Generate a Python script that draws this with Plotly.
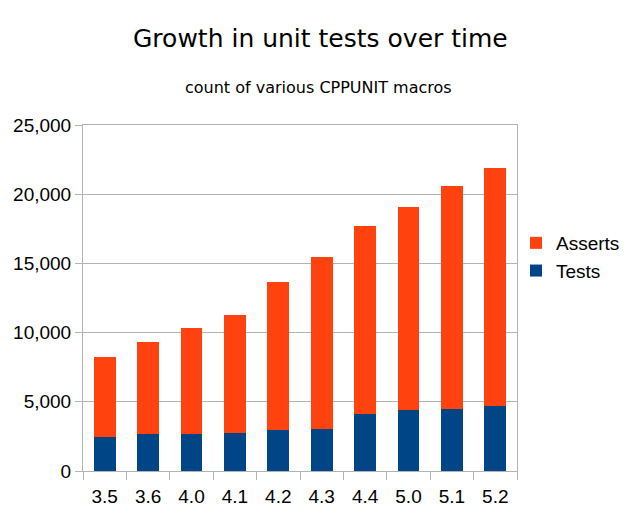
import plotly.graph_objects as go

versions = ["3.5", "3.6", "4.0", "4.1", "4.2", "4.3", "4.4", "5.0", "5.1", "5.2"]
tests = [2480, 2640, 2650, 2720, 2960, 3030, 4090, 4380, 4450, 4670]
totals = [8210, 9290, 10330, 11270, 13680, 15480, 17700, 19100, 20590, 21890]
asserts = [t - s for t, s in zip(totals, tests)]

blue = "#004586"
orange = "#ff420e"
grid = "#b3b3b3"

# the page body has an 8px margin; figure is sized to fit the 640x516 window
OFF = 8
W, H = 640 - OFF, 516 - OFF
L, T, R, B = 83 - OFF, 125 - OFF, W - (517 - OFF), H - (471 - OFF)
plot_h = H - T - B
plot_w = W - L - R

def py(pix):
    return (H - B - (pix - OFF)) / plot_h

def px(pix):
    return ((pix - OFF) - L) / plot_w

fig = go.Figure()
fig.add_trace(go.Bar(x=versions, y=tests, name="Tests", marker=dict(color=blue, line=dict(width=0))))
fig.add_trace(go.Bar(x=versions, y=asserts, name="Asserts", marker=dict(color=orange, line=dict(width=0))))

fig.update_layout(
    width=W, height=H,
    barmode="stack", bargap=0.5,
    paper_bgcolor="white", plot_bgcolor="white",
    margin=dict(l=L, r=R, t=T, b=B, autoexpand=False),
    font=dict(family="Liberation Sans, Arial, sans-serif", size=19, color="#000000"),
    showlegend=True,
    legend=dict(traceorder="reversed", x=px(516), xanchor="left", y=py(257), yanchor="middle",
                font=dict(size=19), bgcolor="rgba(0,0,0,0)", itemclick=False,
                tracegroupgap=0),
    annotations=[
        dict(text="Growth in unit tests over time", x=px(320), xref="paper", xanchor="center",
             y=py(39), yref="paper", yanchor="middle", showarrow=False,
             font=dict(family="DejaVu Sans", size=25, color="black")),
        dict(text="count of various CPPUNIT macros", x=px(318.5), xref="paper", xanchor="center",
             y=py(87), yref="paper", yanchor="middle", showarrow=False,
             font=dict(family="DejaVu Sans", size=16, color="black")),
    ],
)

fig.update_xaxes(
    type="category", tickson="boundaries", ticks="outside", ticklen=8, tickcolor=grid,
    showline=True, linecolor=grid, linewidth=1, mirror=True, showgrid=False,
    tickfont=dict(size=19), automargin=False, ticklabelstandoff=8,
)
fig.update_yaxes(
    range=[0, 25000], dtick=5000, tickformat=",", ticks="outside", ticklen=7, tickcolor=grid,
    showline=True, linecolor=grid, linewidth=1, mirror=True, showgrid=True, gridcolor=grid,
    gridwidth=1, zeroline=False, tickfont=dict(size=19), automargin=False,
)

fig.write_html("out.html")
